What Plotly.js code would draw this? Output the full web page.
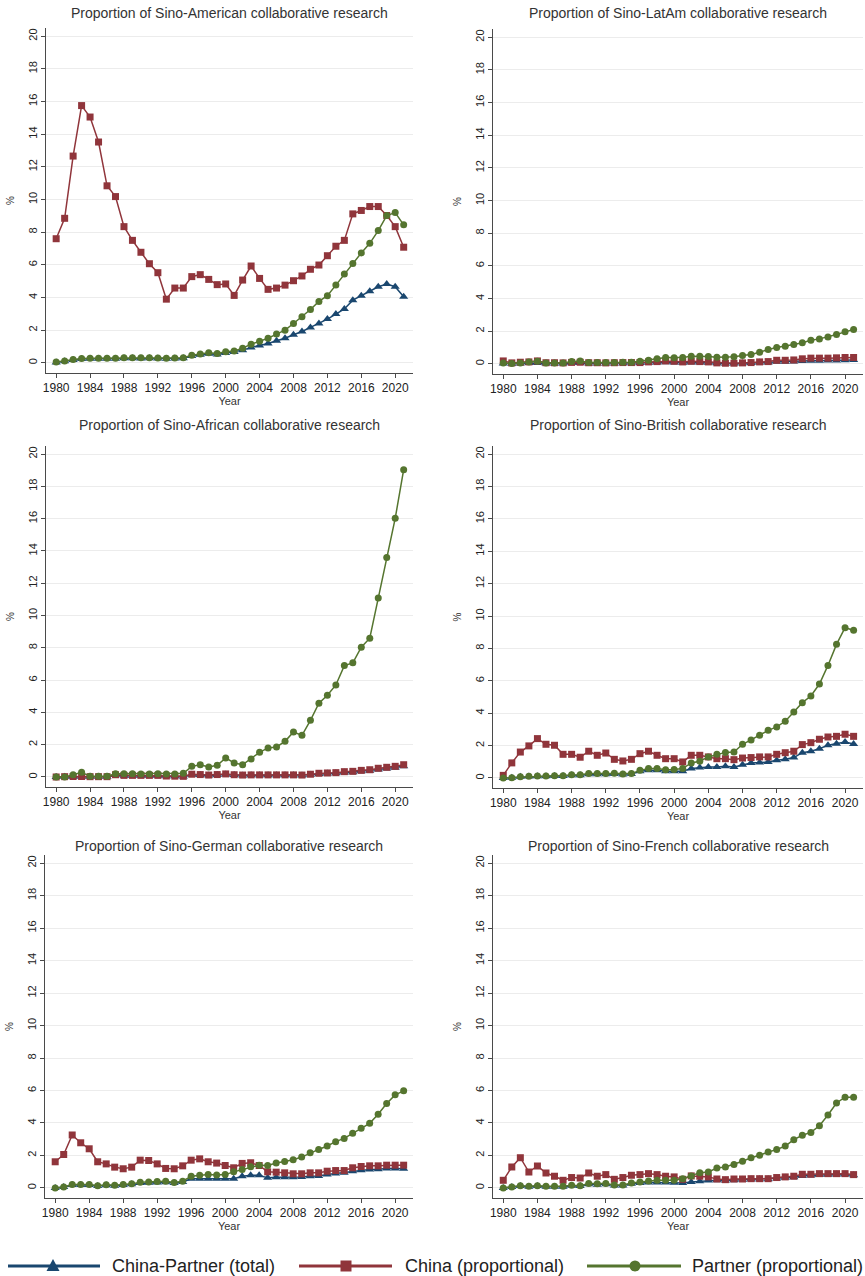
<!DOCTYPE html>
<html>
<head>
<meta charset="utf-8">
<script src="https://cdn.plot.ly/plotly-3.0.1.min.js"></script>
<style>
html,body{margin:0;padding:0;background:#ffffff;}
#chart{width:865px;height:1276px;}
</style>
</head>
<body>
<div id="chart"></div>
<script>
// ---------------- DATA ----------------
const years = [1980,1981,1982,1983,1984,1985,1986,1987,1988,1989,
               1990,1991,1992,1993,1994,1995,1996,1997,1998,1999,
               2000,2001,2002,2003,2004,2005,2006,2007,2008,2009,
               2010,2011,2012,2013,2014,2015,2016,2017,2018,2019,
               2020,2021];
const xTickLabels = ['1980','1984','1988','1992','1996','2000','2004','2008','2012','2016','2020'];
const yTickLabels = ['0','2','4','6','8','10','12','14','16','18','20'];

const seriesNames = ['China-Partner (total)','China (proportional)','Partner (proportional)'];

// Sino-American
const usTotal = [0.03,0.1,0.17,0.24,0.25,0.25,0.26,0.26,0.28,0.28,
                 0.27,0.28,0.27,0.26,0.27,0.29,0.42,0.5,0.56,0.52,
                 0.6,0.66,0.78,0.94,1.06,1.19,1.35,1.51,1.72,1.92,
                 2.17,2.41,2.68,2.99,3.3,3.84,4.11,4.38,4.66,4.83,
                 4.66,4.05];
const usChina = [7.6,8.85,12.66,15.75,15.05,13.52,10.84,10.18,8.34,7.5,
                 6.77,6.07,5.52,3.9,4.58,4.58,5.28,5.4,5.11,4.79,
                 4.83,4.13,5.07,5.93,5.17,4.5,4.58,4.76,5.03,5.32,
                 5.73,5.99,6.56,7.14,7.5,9.12,9.33,9.57,9.57,9.02,
                 8.34,7.08];
const usPartner = [0.05,0.12,0.2,0.27,0.28,0.28,0.29,0.29,0.32,0.32,
                   0.31,0.32,0.3,0.29,0.3,0.32,0.47,0.55,0.62,0.57,
                   0.68,0.73,0.9,1.14,1.32,1.51,1.76,2.0,2.41,2.82,
                   3.27,3.76,4.11,4.76,5.44,6.09,6.73,7.32,8.1,9.02,
                   9.2,8.45];

// Sino-LatAm
const laTotal = [0.02,0.01,0.03,0.05,0.06,0.03,0.03,0.03,0.05,0.06,
                 0.03,0.03,0.03,0.03,0.04,0.04,0.05,0.07,0.08,0.1,
                 0.09,0.07,0.09,0.08,0.07,0.04,0.03,0.03,0.04,0.05,
                 0.08,0.09,0.13,0.13,0.14,0.17,0.19,0.19,0.2,0.21,
                 0.22,0.23];
const laChina = [0.18,0.06,0.1,0.12,0.18,0.07,0.07,0.06,0.09,0.1,
                 0.07,0.07,0.06,0.07,0.08,0.08,0.08,0.12,0.14,0.18,
                 0.16,0.12,0.16,0.14,0.12,0.06,0.04,0.04,0.06,0.08,
                 0.12,0.14,0.22,0.22,0.24,0.31,0.35,0.35,0.35,0.37,
                 0.39,0.39];
const laPartner = [0.05,0.02,0.06,0.12,0.16,0.06,0.06,0.06,0.14,0.18,
                   0.08,0.08,0.08,0.08,0.1,0.1,0.16,0.22,0.31,0.39,
                   0.37,0.39,0.47,0.47,0.45,0.41,0.41,0.43,0.51,0.57,
                   0.71,0.88,1.0,1.08,1.18,1.29,1.45,1.53,1.65,1.8,
                   1.96,2.1];

// Sino-African
const afTotal = [0.0,0.01,0.02,0.02,0.01,0.01,0.01,0.12,0.08,0.08,
                 0.08,0.08,0.08,0.05,0.04,0.03,0.14,0.13,0.1,0.13,
                 0.16,0.12,0.1,0.11,0.11,0.11,0.11,0.11,0.11,0.1,
                 0.14,0.19,0.21,0.23,0.28,0.3,0.35,0.39,0.47,0.52,
                 0.58,0.67];
const afChina = [0.0,0.02,0.03,0.03,0.02,0.02,0.02,0.14,0.1,0.1,
                 0.1,0.1,0.1,0.06,0.05,0.04,0.17,0.15,0.12,0.15,
                 0.19,0.14,0.12,0.13,0.13,0.13,0.13,0.13,0.13,0.12,
                 0.17,0.23,0.25,0.27,0.33,0.35,0.41,0.45,0.54,0.6,
                 0.66,0.76];
const afPartner = [0.0,0.0,0.14,0.29,0.04,0.04,0.04,0.2,0.2,0.2,
                   0.19,0.19,0.2,0.19,0.19,0.23,0.66,0.76,0.62,0.72,
                   1.18,0.87,0.76,1.12,1.53,1.8,1.86,2.21,2.79,2.58,
                   3.51,4.57,5.06,5.7,6.9,7.07,8.04,8.6,11.08,13.6,
                   16.02,19.03];

// Sino-British
const ukTotal = [0.0,0.02,0.07,0.09,0.11,0.11,0.12,0.12,0.17,0.17,
                 0.23,0.23,0.23,0.25,0.22,0.24,0.41,0.47,0.47,0.41,
                 0.41,0.41,0.58,0.64,0.68,0.68,0.72,0.68,0.82,0.93,
                 0.95,0.99,1.09,1.15,1.26,1.56,1.65,1.81,2.02,2.12,
                 2.22,2.1];
const ukChina = [0.16,0.93,1.6,1.98,2.43,2.08,2.02,1.46,1.46,1.28,
                 1.65,1.4,1.54,1.15,1.05,1.15,1.5,1.65,1.4,1.19,
                 1.19,0.99,1.4,1.4,1.3,1.19,1.19,1.13,1.23,1.26,
                 1.3,1.3,1.46,1.56,1.65,2.06,2.18,2.39,2.53,2.57,
                 2.7,2.57];
const ukPartner = [0.0,0.02,0.08,0.1,0.12,0.12,0.14,0.14,0.2,0.2,
                   0.27,0.27,0.27,0.29,0.25,0.27,0.47,0.58,0.58,0.51,
                   0.53,0.58,0.93,1.03,1.3,1.46,1.58,1.6,2.08,2.35,
                   2.63,2.94,3.15,3.5,4.07,4.65,5.06,5.8,6.95,8.25,
                   9.28,9.12];

// Sino-German
const deTotal = [0.0,0.05,0.18,0.18,0.18,0.12,0.16,0.14,0.18,0.22,
                 0.3,0.32,0.34,0.35,0.3,0.36,0.56,0.57,0.57,0.56,
                 0.56,0.56,0.72,0.78,0.78,0.62,0.66,0.66,0.66,0.68,
                 0.72,0.74,0.82,0.89,0.93,1.03,1.09,1.13,1.15,1.2,
                 1.2,1.18];
const deChina = [1.61,2.06,3.26,2.78,2.41,1.61,1.48,1.28,1.18,1.28,
                 1.71,1.69,1.48,1.2,1.18,1.36,1.71,1.79,1.61,1.53,
                 1.38,1.24,1.51,1.55,1.38,0.99,0.97,0.93,0.87,0.87,
                 0.93,0.93,1.03,1.07,1.07,1.24,1.32,1.36,1.36,1.4,
                 1.4,1.4];
const dePartner = [0.0,0.06,0.21,0.21,0.21,0.14,0.19,0.16,0.21,0.25,
                   0.35,0.37,0.39,0.41,0.33,0.41,0.72,0.78,0.82,0.8,
                   0.82,0.99,1.13,1.3,1.4,1.38,1.53,1.63,1.73,1.9,
                   2.16,2.37,2.58,2.85,3.05,3.36,3.67,3.98,4.54,5.2,
                   5.73,5.98];

// Sino-French
const frTotal = [0.0,0.05,0.12,0.08,0.12,0.08,0.08,0.08,0.13,0.12,
                 0.22,0.2,0.22,0.15,0.15,0.26,0.31,0.34,0.34,0.33,
                 0.32,0.31,0.37,0.41,0.45,0.47,0.46,0.48,0.5,0.52,
                 0.53,0.54,0.58,0.62,0.66,0.74,0.76,0.8,0.81,0.82,
                 0.82,0.78];
const frChina = [0.47,1.29,1.86,0.98,1.35,0.92,0.72,0.47,0.64,0.61,
                 0.92,0.72,0.82,0.53,0.64,0.78,0.82,0.88,0.82,0.72,
                 0.68,0.53,0.74,0.72,0.68,0.55,0.51,0.55,0.55,0.57,
                 0.57,0.57,0.64,0.68,0.72,0.84,0.84,0.88,0.88,0.88,
                 0.88,0.82];
const frPartner = [0.0,0.06,0.14,0.1,0.14,0.1,0.1,0.1,0.16,0.14,
                   0.27,0.25,0.27,0.18,0.18,0.31,0.37,0.43,0.47,0.47,
                   0.47,0.57,0.74,0.94,0.98,1.23,1.29,1.45,1.64,1.86,
                   2.01,2.21,2.36,2.58,2.97,3.24,3.42,3.83,4.49,5.23,
                   5.59,5.59];

const panelTitles = [
  'Proportion of Sino-American collaborative research',
  'Proportion of Sino-LatAm collaborative research',
  'Proportion of Sino-African collaborative research',
  'Proportion of Sino-British collaborative research',
  'Proportion of Sino-German collaborative research',
  'Proportion of Sino-French collaborative research'
];
const panelSeries = [
  [usTotal, usChina, usPartner],
  [laTotal, laChina, laPartner],
  [afTotal, afChina, afPartner],
  [ukTotal, ukChina, ukPartner],
  [deTotal, deChina, dePartner],
  [frTotal, frChina, frPartner]
];

// ---------------- STYLE / LAYOUT ----------------
const W = 865, H = 1276;
const px = v => v / W;
const py = v => 1 - v / H;

const colors = ['#1a476f', '#90353b', '#55752f'];
const symbols = ['triangle-up', 'square', 'circle'];
const msizes = [8, 7, 7];

// plot-area boxes in pixels: [left, top, right, bottom]
const boxes = [
  [46, 28, 413, 373],
  [493, 29, 863, 374],
  [46, 446, 413, 787],
  [493, 446, 863, 788],
  [45, 855, 413, 1198],
  [493, 855, 863, 1198]
];
const titleCenterY = [13, 13, 425, 425, 846, 846];

const FONT = 'Liberation Sans, Arial, sans-serif';
const axisColor = '#4a4a4a';

const traces = [];
const layout = {
  width: W, height: H,
  margin: {l: 0, r: 0, t: 0, b: 0},
  paper_bgcolor: '#ffffff',
  plot_bgcolor: '#ffffff',
  showlegend: false,
  font: {family: FONT, color: '#333333'},
  annotations: [],
  shapes: []
};

const xTickVals = xTickLabels.map(Number);
const yTickVals = yTickLabels.map(Number);

panelSeries.forEach((ser, i) => {
  const n = i + 1;
  const xa = n === 1 ? 'x' : 'x' + n;
  const ya = n === 1 ? 'y' : 'y' + n;
  ser.forEach((vals, k) => {
    traces.push({
      type: 'scatter', mode: 'lines+markers',
      x: years, y: vals, xaxis: xa, yaxis: ya,
      name: seriesNames[k],
      line: {color: colors[k], width: 1.5},
      marker: {color: colors[k], symbol: symbols[k], size: msizes[k]},
      hoverinfo: 'skip', showlegend: false
    });
  });
  const b = boxes[i];
  layout[n === 1 ? 'xaxis' : 'xaxis' + n] = {
    domain: [px(b[0]), px(b[2])],
    anchor: ya,
    range: [1978.8, 2022.1],
    tickmode: 'array', tickvals: xTickVals, ticktext: xTickLabels,
    ticks: 'outside', ticklen: 4, tickwidth: 1, tickcolor: axisColor,
    showline: true, linecolor: axisColor, linewidth: 1,
    showgrid: false, zeroline: false,
    tickfont: {size: 12, color: '#222222', family: FONT},
    title: {text: 'Year', font: {size: 11, color: '#333333', family: FONT}, standoff: 1},
    fixedrange: true
  };
  layout[n === 1 ? 'yaxis' : 'yaxis' + n] = {
    domain: [py(b[3]), py(b[1])],
    anchor: xa,
    range: [-0.62, 20.5],
    tickmode: 'array', tickvals: yTickVals, ticktext: yTickLabels,
    tickangle: -90,
    ticks: 'outside', ticklen: 4, tickwidth: 1, tickcolor: axisColor,
    showline: true, linecolor: axisColor, linewidth: 1,
    showgrid: true, gridcolor: '#ececec', gridwidth: 1,
    zeroline: false,
    tickfont: {size: 11, color: '#222222', family: FONT},
    title: {text: '%', font: {size: 10, color: '#333333', family: FONT}, standoff: 10},
    fixedrange: true
  };
  layout.annotations.push({
    xref: 'paper', yref: 'paper',
    x: px((b[0] + b[2]) / 2), y: py(titleCenterY[i]),
    xanchor: 'center', yanchor: 'middle',
    text: panelTitles[i], showarrow: false,
    font: {size: 14, color: '#333333', family: FONT}
  });
});

// ---------------- LEGEND (drawn with shapes + text) ----------------
const legY = 1266;
const legendItems = [
  {x0: 8, x1: 100, mx: 53, tx: 110},
  {x0: 299, x1: 392, mx: 346, tx: 403},
  {x0: 587, x1: 681, mx: 635, tx: 690}
];
legendItems.forEach((it, k) => {
  layout.shapes.push({
    type: 'line', xref: 'paper', yref: 'paper',
    x0: px(it.x0), x1: px(it.x1), y0: py(legY), y1: py(legY),
    line: {color: colors[k], width: 3}
  });
  if (k === 0) {
    layout.shapes.push({
      type: 'path', xref: 'paper', yref: 'paper',
      path: 'M' + px(it.mx - 6.5) + ',' + py(legY + 5) + ' L' + px(it.mx + 6.5) + ',' + py(legY + 5) +
            ' L' + px(it.mx) + ',' + py(legY - 7) + ' Z',
      fillcolor: colors[k], line: {color: colors[k], width: 0}
    });
  } else if (k === 1) {
    layout.shapes.push({
      type: 'rect', xref: 'paper', yref: 'paper',
      x0: px(it.mx - 5.5), x1: px(it.mx + 5.5), y0: py(legY + 5.5), y1: py(legY - 5.5),
      fillcolor: colors[k], line: {color: colors[k], width: 0}
    });
  } else {
    layout.shapes.push({
      type: 'circle', xref: 'paper', yref: 'paper',
      x0: px(it.mx - 5.5), x1: px(it.mx + 5.5), y0: py(legY + 5.5), y1: py(legY - 5.5),
      fillcolor: colors[k], line: {color: colors[k], width: 0}
    });
  }
  layout.annotations.push({
    xref: 'paper', yref: 'paper',
    x: px(it.tx), y: py(legY),
    xanchor: 'left', yanchor: 'middle',
    text: seriesNames[k], showarrow: false,
    font: {size: 18, color: '#222222', family: FONT}
  });
});

Plotly.newPlot('chart', traces, layout, {staticPlot: true, displayModeBar: false});
</script>
</body>
</html>
